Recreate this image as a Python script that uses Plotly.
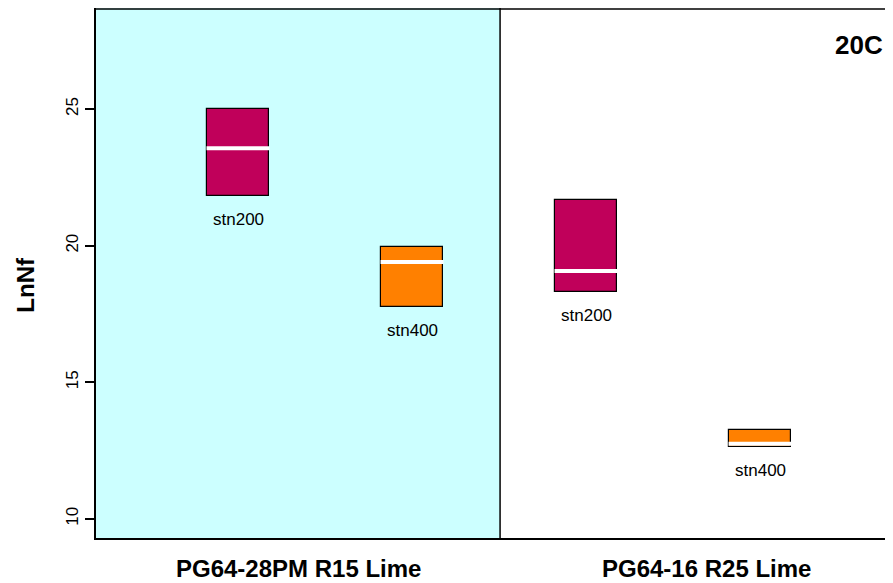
import plotly.graph_objects as go

# box positions along the x axis and the values
positions = [1, 2, 3, 4]
series = ["stn200", "stn400", "stn200", "stn400"]
lower = [21.82, 17.76, 18.30, 12.62]
median = [23.57, 19.40, 19.07, 12.75]
upper = [25.00, 19.95, 21.67, 13.25]
colors = ["#C0005A", "#FF8000", "#C0005A", "#FF8000"]

groups = ["PG64-28PM R15 Lime", "PG64-16 R25 Lime"]
group_label_x = [1.345, 3.695]
divider = 2.506
yticks = [10, 15, 20, 25]

FONT = "Liberation Sans, Arial, sans-serif"
box_w = 0.356

fig = go.Figure()

fig.add_trace(go.Bar(
    x=positions,
    y=[u - l for u, l in zip(upper, lower)],
    base=lower,
    width=box_w,
    marker=dict(color=colors, line=dict(color="black", width=1.2)),
    hoverinfo="skip",
    showlegend=False,
))

fig.add_trace(go.Scatter(
    x=positions,
    y=median,
    mode="markers",
    marker=dict(symbol="line-ew", size=45, line=dict(color="white", width=4)),
    hoverinfo="skip",
    showlegend=False,
))

# cyan background for the first binder group
fig.add_shape(type="rect", xref="x", yref="paper", x0=0.184, x1=divider, y0=0, y1=1,
              fillcolor="#CCFFFF", line=dict(width=0), layer="below")
fig.add_shape(type="line", xref="x", yref="paper", x0=divider, x1=divider, y0=0, y1=1,
              line=dict(color="black", width=1.5))
fig.add_shape(type="line", xref="paper", yref="paper", x0=0, x1=1, y0=0.998, y1=0.998,
              line=dict(color="black", width=1.5))

for p, s, lo in zip(positions, series, lower):
    fig.add_annotation(x=p, y=lo, text=s, showarrow=False, yanchor="top", yshift=-12,
                       font=dict(family=FONT, size=17, color="black"))

for gx, g in zip(group_label_x, groups):
    fig.add_annotation(x=gx, xref="x", y=0, yref="paper", text="<b>%s</b>" % g,
                       showarrow=False, yanchor="middle", yshift=-30,
                       font=dict(family=FONT, size=24, color="black"))

fig.add_annotation(x=0, xref="paper", xshift=-86, y=0.477, yref="paper", text="<b>LnNf</b>",
                   textangle=-90, showarrow=False, font=dict(family=FONT, size=24, color="black"))
fig.add_annotation(x=0.99, xref="paper", y=0.93, yref="paper", text="<b>20C</b>",
                   xanchor="right", yanchor="middle", showarrow=False,
                   font=dict(family=FONT, size=26, color="black"))

# page body adds an 8px offset, so the figure is sized to fit inside the window
fig.update_layout(
    width=885, height=575,
    margin=dict(l=88, r=0, t=0, b=45),
    paper_bgcolor="white",
    plot_bgcolor="white",
    bargap=0,
    xaxis=dict(range=[0.184, 4.764], showticklabels=False, ticks="", showgrid=False,
               zeroline=False, showline=True, linecolor="black", linewidth=1.5),
    yaxis=dict(range=[9.3, 28.7], tickvals=yticks, ticks="outside", ticklen=9, tickwidth=1.5,
               tickcolor="black", tickangle=-90, showgrid=False, zeroline=False,
               showline=True, linecolor="black", linewidth=1.5,
               tickfont=dict(family=FONT, size=17, color="black")),
)

fig.write_html("out.html")
